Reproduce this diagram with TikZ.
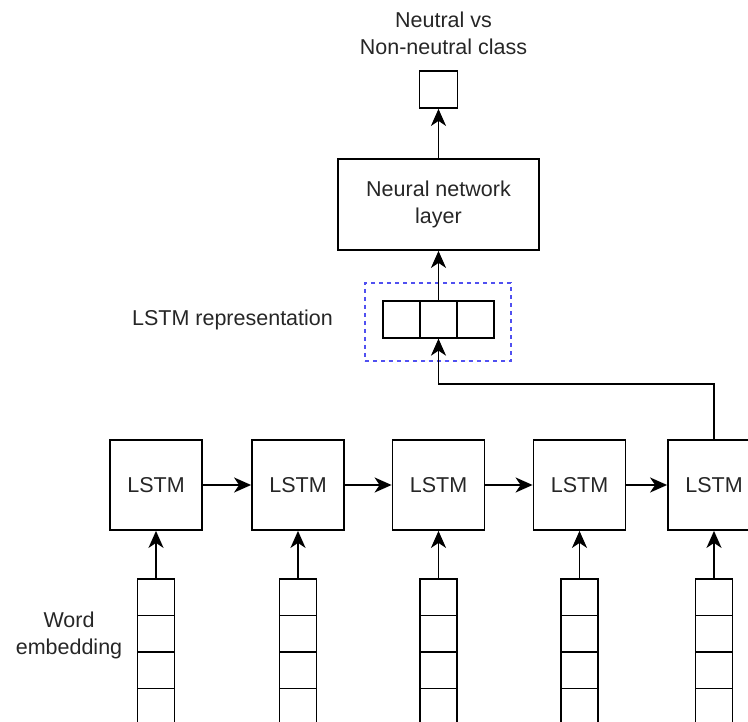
\documentclass[tikz,border=0pt]{standalone}
\usepackage{fontspec}
\setmainfont{Liberation Sans}
\usetikzlibrary{arrows.meta}
\definecolor{framecol}{RGB}{80,80,240}
\tikzset{
  txt/.style={font=\fontsize{21.5}{27}\selectfont, text=black!85},
  lstmbox/.style={txt, draw, line width=1.8pt, minimum width=92pt, minimum height=90pt, inner sep=0pt},
  cell/.style={draw, line width=1.8pt, minimum width=37pt, minimum height=36.5pt, inner sep=0pt},
  link/.style={line width=1.8pt, -{Stealth[length=17pt,width=15pt,inset=5pt]}},
}
\begin{document}
\begin{tikzpicture}[x=1pt, y=-1pt]
    \useasboundingbox (0,0) rectangle (748,722);
    \clip (0,0) rectangle (748,722);

    % LSTM chain with word embeddings below
    \foreach \i/\cx in {1/156, 2/298, 3/438.5, 4/579.5, 5/714} {
        \node[lstmbox] (lstm\i) at (\cx,485) {LSTM};
        \foreach \j in {1,...,4}
            \node[cell] (emb\i-\j) at (\cx,{579+18.25+36.5*(\j-1)}) {};
        \draw[link] (emb\i-1) -- (lstm\i);
    }
    \foreach \i [evaluate=\i as \k using int(\i+1)] in {1,...,4}
        \draw[link] (lstm\i) -- (lstm\k);
    \node[txt, align=center] (emblabel) at (69,635) {Word\\embedding};

    % LSTM representation
    \node[draw=framecol, dashed, dash pattern=on 4pt off 4pt, line width=1.3pt,
          minimum width=146pt, minimum height=78pt] (repframe) at (438,322) {};
    \foreach \i/\cx in {1/401.5, 2/438.5, 3/475.5}
        \node[cell] (rep\i) at (\cx,319.5) {};
    \node[txt] (replabel) at (232.5,320) {LSTM representation};
    \draw[link] (lstm5.north) -- ++(0,-55) -| (rep2.south);

    % output part
    \node[lstmbox, minimum width=201pt, minimum height=91pt, align=center] (nn) at (438.5,204.5) {Neural network\\layer};
    \draw[link] (rep2.north) -- (nn.south);
    \node[cell, minimum width=38pt, minimum height=37pt] (out) at (438.5,89.5) {};
    \draw[link] (nn.north) -- (out.south);
    \node[txt, align=center] (title) at (443.5,33.5) {Neutral vs\\Non-neutral class};
\end{tikzpicture}
\end{document}
